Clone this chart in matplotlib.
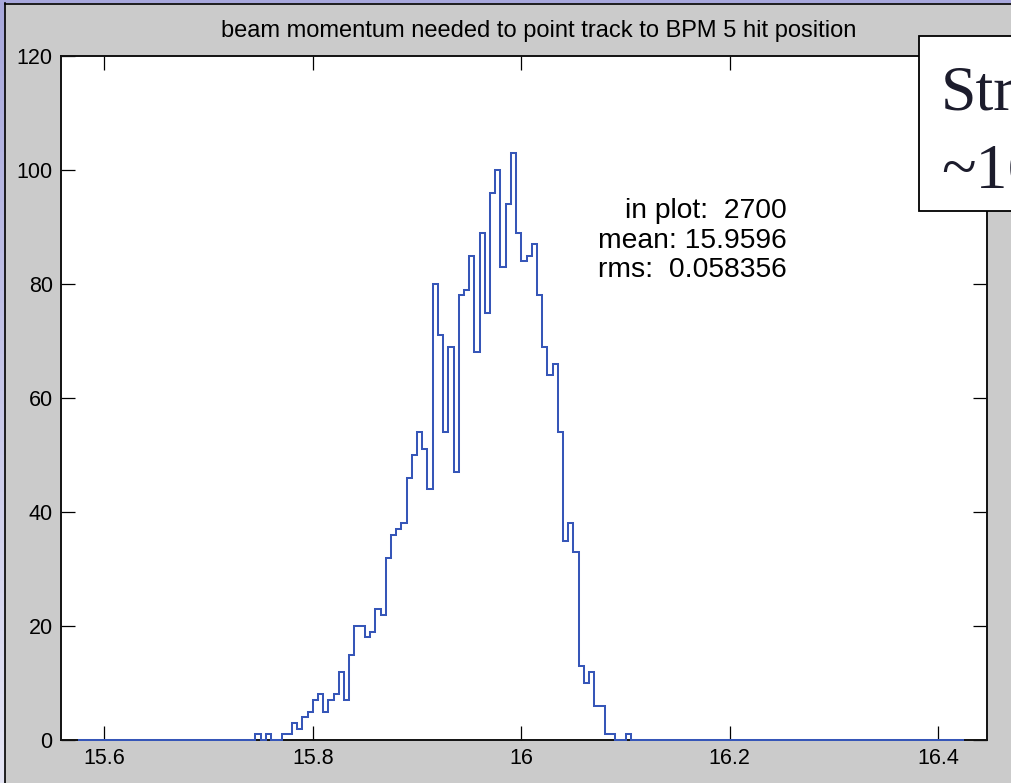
import numpy as np
import matplotlib
matplotlib.use('Agg')
from matplotlib import pyplot as plt
from matplotlib.patches import Rectangle
from matplotlib.lines import Line2D

# histogram: 170 bins of width 0.005 starting at 15.575
bin_start = 15.575
bin_width = 0.005
n_bins = 170
# counts of the non-empty part, bins 15.745 ... 16.100
core_start = 15.745
core_counts = [1, 0, 1, 0, 0,
               1, 1, 3, 2, 4, 5, 7, 8, 5, 7, 8, 12, 7, 15, 20, 20, 18, 19, 23, 22,
               32, 36, 37, 38, 46, 50,
               54, 51, 44, 80, 71, 54, 69, 47, 78, 79, 85, 68, 89, 75, 96, 100,
               83, 94, 103, 89, 84, 85, 87, 78, 69, 64, 66, 54,
               35, 38, 33, 13, 10, 12, 6, 6, 1, 1, 0, 0, 1]

title = 'beam momentum needed to point track to BPM 5 hit position'
stats = ['in plot:  2700', 'mean: 15.9596', 'rms:  0.058356']
xticks = [15.6, 15.8, 16.0, 16.2, 16.4]
xticklabels = ['15.6', '15.8', '16', '16.2', '16.4']
yticks = [0, 20, 40, 60, 80, 100, 120]

blue = '#3656b8'
grey = '#cbcbcb'

plt.rcParams['font.family'] = ['Liberation Sans', 'DejaVu Sans']

W, H = 1012, 783
fig = plt.figure(figsize=(W / 100, H / 100), dpi=100, facecolor=grey)

# slide background strips (left + top)
grad = np.linspace(0, 1, H)[:, None]
top_c = np.array([168, 168, 220]) / 255
bot_c = np.array([230, 230, 245]) / 255
left_img = (top_c * (1 - grad[..., None]) + bot_c * grad[..., None]) * np.ones((H, 5, 3))
fig.figimage(left_img, xo=0, yo=0, origin='upper', zorder=0)
fig.figimage(np.ones((3, W, 3)) * top_c, xo=0, yo=H - 3, origin='upper', zorder=0)
fig.add_artist(Line2D([5.5 / W, 5.5 / W], [0, 1 - 3 / H], color='k', lw=1.2,
                      transform=fig.transFigure))
fig.add_artist(Line2D([5.5 / W, 1], [1 - 3.5 / H, 1 - 3.5 / H], color='k', lw=1.2,
                      transform=fig.transFigure))

ax = fig.add_axes([61 / W, 1 - 740 / H, (987 - 61) / W, (740 - 56) / H])
ax.set_facecolor('white')

lead = int(round((core_start - bin_start) / bin_width))
counts = np.array([0] * lead + core_counts + [0] * (n_bins - lead - len(core_counts)))
edges = bin_start + bin_width * np.arange(n_bins + 1)
ax.stairs(counts, edges, color=blue, lw=1.45, zorder=3, clip_on=False)

ax.set_xlim(15.5585, 16.4467)
ax.set_ylim(0, 120)
ax.set_xticks(xticks)
ax.set_xticklabels(xticklabels)
ax.set_yticks(yticks)
ax.tick_params(direction='in', length=10, width=0.9, top=True, right=True,
               labelsize=15.5, pad=6, colors='k')
for s in ax.spines.values():
    s.set_linewidth(1.4)
    s.set_color('#111111')

ax.set_title(title, fontsize=17, pad=14, x=0.516)

for i, line in enumerate(stats):
    ax.text(16.255, 92.8 - 5.2 * i, line, ha='right', va='center', fontsize=20.3)

# slide text box overlapping the top-right corner
fig.add_artist(Rectangle((919 / W, 1 - 210.7 / H), 0.2, 175 / H, facecolor='white',
                         edgecolor='k', lw=1.3, transform=fig.transFigure, zorder=5))
fig.text(941 / W, 1 - 110 / H, 'Str', family='Liberation Serif', fontsize=46,
         color='#1c1c2c', va='baseline', ha='left', zorder=6)
fig.text(941 / W, 1 - 187 / H, '~16', family='Liberation Serif', fontsize=46,
         color='#1c1c2c', va='baseline', ha='left', zorder=6)

fig.savefig('out.png', dpi=100, facecolor=grey)
